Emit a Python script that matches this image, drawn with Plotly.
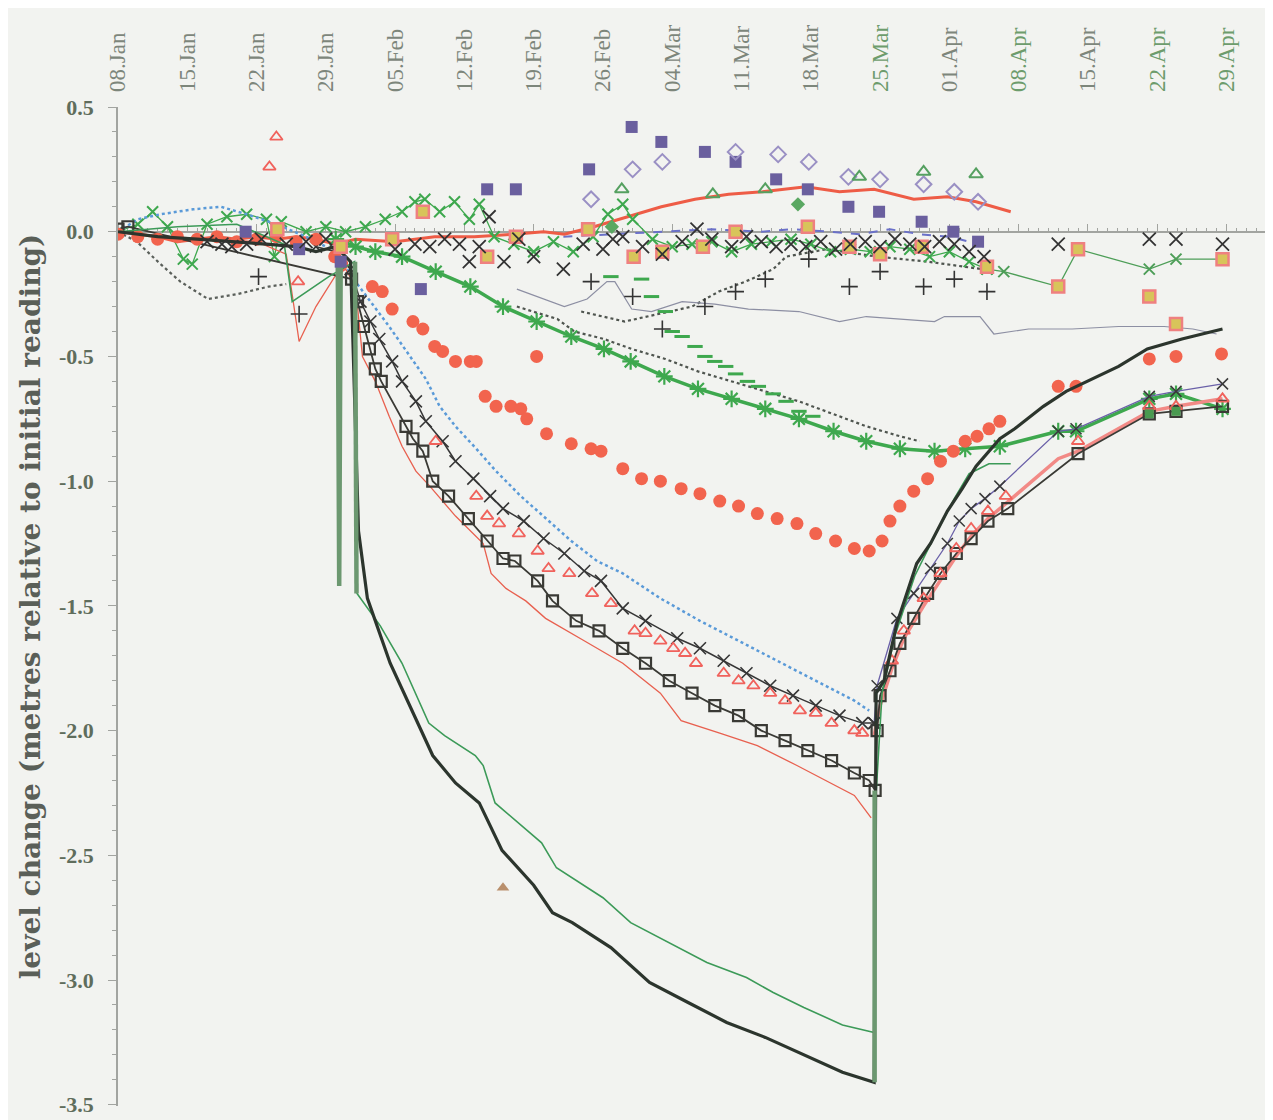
import pandas as pd
import plotly.graph_objects as go

BASE = pd.Timestamp("2004-01-08")

# ---------------- data (day offsets from 08 Jan, level change in metres) ----------------
BK_DAYS = [0, 4, 8, 12, 15, 18, 20, 22, 23.5, 24.3, 25.2, 27.5, 30.3, 31.8, 34.1, 36.5, 38.8, 42.0, 43.9, 45.9,
           49.8, 53.7, 57.6, 61.5, 65.4, 69.3, 73.2, 76.4, 76.6, 77.4, 78.7, 80.7, 82.1, 83.8, 85.3, 86.7, 89.1,
           90.6, 93.5, 95.8, 97.9, 101.1, 104.0, 107.5, 111.6]
BK_LEVEL = [0.0, -0.02, -0.03, -0.04, -0.05, -0.06, -0.08, -0.06, -0.12, -1.20, -1.47, -1.73, -1.97, -2.10, -2.21,
            -2.29, -2.48, -2.62, -2.73, -2.77, -2.87, -3.01, -3.09, -3.17, -3.23, -3.30, -3.37, -3.41, -1.85, -1.80,
            -1.57, -1.33, -1.25, -1.12, -1.03, -0.94, -0.83, -0.79, -0.70, -0.64, -0.60, -0.54, -0.47, -0.43, -0.39]

G_DAYS = [0, 6, 12, 16.8, 17.6, 21.3, 23.9, 24.15, 26.5, 28.7, 31.4, 33.0, 36.1, 36.9, 38.1, 40.5, 42.8, 44.3,
          45.9, 49.0, 51.8, 55.6, 59.5, 63.5, 66.2, 69.3, 73.2, 76.4, 76.6, 77.2, 78.5, 80.5, 82.5, 84.5, 86.0,
          88.0, 90.2]
G_LEVEL = [0.0, 0.02, 0.03, -0.05, -0.28, -0.18, -0.12, -1.45, -1.58, -1.73, -1.97, -2.02, -2.10, -2.14, -2.29,
           -2.37, -2.45, -2.55, -2.59, -2.67, -2.77, -2.85, -2.93, -2.99, -3.05, -3.11, -3.18, -3.21, -2.25, -1.85,
           -1.62, -1.38, -1.22, -1.07, -0.97, -0.93, -0.93]

SPIKE_DAYS = [22.2, 22.35, 22.5, None, 23.95, 24.1, None, 76.45, 76.45]
SPIKE_LEVEL = [-0.10, -1.42, -0.12, None, -0.12, -1.45, None, -3.41, -2.24]

RT_DAYS = [0, 5, 10, 14, 17.0, 18.3, 20.0, 21.9, 23.0, 24.0, 24.7, 26.0, 27.4, 28.7, 30.1, 31.5, 34.1, 36.9, 37.7,
           39.2, 41.2, 43.2, 47.1, 51.0, 54.8, 56.9, 60.8, 64.6, 68.6, 72.5, 74.4, 76.1]
RT_LEVEL = [0.0, -0.02, -0.03, -0.04, -0.09, -0.44, -0.30, -0.18, -0.15, -0.22, -0.50, -0.60, -0.74, -0.86, -0.96,
            -1.02, -1.14, -1.25, -1.37, -1.43, -1.48, -1.55, -1.64, -1.73, -1.85, -1.96, -2.01, -2.06, -2.14, -2.22,
            -2.26, -2.35]

TRI_DAYS = [15.3, 16.0, 18.2, 32.1, 36.2, 37.3, 38.5, 40.5, 42.4, 43.5, 45.6, 47.9, 49.8, 52.2, 53.3, 54.8, 56.1,
            57.3, 58.4, 61.2, 62.7, 64.2, 65.9, 67.4, 68.9, 70.5, 72.1, 74.4, 75.2, 78.2, 79.4, 81.4, 83.1, 84.7,
            86.2, 87.9, 89.7, 97.0, 104.2, 106.9, 111.6]
TRI_LEVEL = [0.26, 0.38, -0.20, -0.84, -1.06, -1.14, -1.17, -1.21, -1.28, -1.35, -1.37, -1.45, -1.49, -1.60, -1.61,
             -1.64, -1.67, -1.69, -1.73, -1.77, -1.80, -1.82, -1.85, -1.88, -1.92, -1.93, -1.97, -2.00, -2.01, -1.72,
             -1.60, -1.47, -1.37, -1.27, -1.19, -1.12, -1.06, -0.84, -0.70, -0.70, -0.67]

PINK_DAYS = [76.4, 77.0, 78.2, 79.4, 81.4, 83.1, 84.7, 86.2, 87.9, 89.7, 95.0, 97.0, 104.2, 106.9, 111.6]
PINK_LEVEL = [-2.02, -1.90, -1.75, -1.63, -1.50, -1.40, -1.30, -1.22, -1.15, -1.09, -0.91, -0.88, -0.72, -0.70, -0.67]

XB_DAYS = [20.0, 22.0, 23.5, 24.5, 25.5, 26.4, 27.7, 28.7, 30.1, 31.1, 32.8, 34.1, 35.9, 37.6, 38.9, 41.0, 43.0,
           45.1, 47.1, 48.8, 51.0, 53.3, 56.5, 58.8, 61.2, 63.5, 65.9, 68.2, 70.5, 72.9, 75.2, 76.4]
XB_LEVEL = [-0.06, -0.08, -0.15, -0.28, -0.36, -0.43, -0.52, -0.60, -0.68, -0.76, -0.84, -0.92, -0.99, -1.06, -1.11,
            -1.16, -1.23, -1.29, -1.36, -1.40, -1.51, -1.56, -1.63, -1.67, -1.72, -1.77, -1.82, -1.86, -1.90, -1.94,
            -1.97, -1.97]

XREC_DAYS = [76.4, 76.7, 78.7, 80.4, 82.1, 83.8, 85.0, 86.2, 87.6, 89.1, 95.0, 96.8, 104.2, 106.9, 111.6]
XREC_LEVEL = [-1.97, -1.82, -1.55, -1.45, -1.35, -1.25, -1.16, -1.11, -1.07, -1.02, -0.80, -0.79, -0.66, -0.64, -0.61]

BOX_DAYS = [0, 1, 23.6, 24.2, 24.8, 25.4, 26.0, 26.6, 29.1, 29.8, 30.8, 31.8, 33.4, 35.4, 37.3, 38.9, 40.1, 42.4,
            43.9, 46.3, 48.6, 51.0, 53.3, 55.7, 58.0, 60.3, 62.7, 65.0, 67.4, 69.7, 72.1, 74.4, 75.9, 76.5, 76.7,
            77.0, 78.0, 79.0, 80.4, 81.8, 83.1, 84.7, 86.2, 87.9, 89.9, 97.0, 104.2, 106.9, 111.6]
BOX_LEVEL = [0.01, 0.02, -0.19, -0.28, -0.38, -0.47, -0.55, -0.60, -0.78, -0.83, -0.88, -1.00, -1.06, -1.15, -1.24,
             -1.31, -1.32, -1.40, -1.48, -1.56, -1.60, -1.67, -1.73, -1.80, -1.85, -1.90, -1.94, -2.00, -2.04, -2.08,
             -2.12, -2.17, -2.20, -2.24, -2.00, -1.86, -1.76, -1.65, -1.55, -1.45, -1.37, -1.29, -1.23, -1.16, -1.11,
             -0.89, -0.73, -0.72, -0.70]

BLUE_DAYS = [0, 2, 4.3, 7.6, 10.4, 13, 16, 19, 22, 24, 27.4, 29.5, 31.1, 32.5, 34.1, 36.2, 38.2, 40.7, 43.0, 45.8,
             48.4, 51.0, 54.8, 58.8, 62.7, 66.6, 70.5, 74.4, 75.9]
BLUE_LEVEL = [0, 0.05, 0.07, 0.09, 0.10, 0.07, 0.03, -0.02, -0.08, -0.20, -0.38, -0.50, -0.59, -0.70, -0.78, -0.87,
              -0.96, -1.06, -1.14, -1.24, -1.32, -1.37, -1.47, -1.56, -1.64, -1.72, -1.80, -1.88, -1.92]

RD_DAYS = [0, 2, 4, 6, 8, 10, 12, 14, 16, 18, 20, 21.9, 22.6, 25.7, 26.7, 27.7, 29.8, 30.8, 32.0, 32.8, 34.1, 35.6,
           36.2, 37.1, 38.2, 39.7, 40.7, 41.3, 42.3, 43.3, 45.8, 47.8, 48.8, 51.0, 52.9, 54.8, 56.9, 58.8, 60.8,
           62.7, 64.6, 66.6, 68.6, 70.5, 72.5, 74.4, 75.9, 77.2, 78.0, 79.0, 80.4, 81.8, 83.1, 84.4, 85.6, 86.8,
           88.0, 89.1, 95.0, 96.8, 104.2, 106.9, 111.5]
RD_LEVEL = [-0.01, -0.02, -0.03, -0.02, -0.03, -0.02, -0.04, -0.03, -0.02, -0.04, -0.03, -0.10, -0.13, -0.22, -0.24,
            -0.31, -0.36, -0.39, -0.46, -0.48, -0.52, -0.52, -0.52, -0.66, -0.70, -0.70, -0.71, -0.75, -0.50, -0.81,
            -0.85, -0.87, -0.88, -0.95, -0.99, -1.00, -1.03, -1.05, -1.08, -1.10, -1.13, -1.15, -1.17, -1.21, -1.24,
            -1.27, -1.28, -1.24, -1.16, -1.10, -1.04, -0.99, -0.92, -0.88, -0.84, -0.82, -0.79, -0.76, -0.62, -0.62,
            -0.51, -0.50, -0.49]

GX_DAYS = [22.0, 24.0, 26.0, 28.7, 32.1, 35.6, 38.9, 42.3, 45.8, 49.1, 51.8, 55.2, 58.6, 62.0, 65.4, 68.8, 72.3,
           75.6, 79.0, 82.5, 85.6, 89.1, 95.0, 96.8, 104.2, 106.9, 111.6]
GX_LEVEL = [-0.03, -0.06, -0.08, -0.10, -0.16, -0.22, -0.30, -0.36, -0.42, -0.47, -0.52, -0.58, -0.63, -0.67, -0.71,
            -0.75, -0.80, -0.84, -0.87, -0.88, -0.87, -0.86, -0.80, -0.80, -0.67, -0.65, -0.71]

GX0_DAYS = [0, 2, 3.5, 5, 6.6, 7.5, 9, 11, 13, 15, 15.8, 16.5, 19, 21, 23, 25, 27, 28.7, 30, 31, 32.5, 34, 35.5,
            36.5, 38, 40, 42, 44, 46, 48, 49.5, 51, 52, 54, 56, 58, 60, 62, 64, 66, 68, 70, 72, 74, 76, 78, 80, 82,
            84, 86, 87.8]
GX0_LEVEL = [0.0, 0.03, 0.08, 0.02, -0.11, -0.13, 0.03, 0.06, 0.07, 0.05, -0.10, 0.04, 0.0, 0.02, 0.0, 0.02, 0.05,
             0.08, 0.12, 0.13, 0.08, 0.12, 0.05, 0.11, -0.02, -0.05, -0.08, -0.04, -0.08, -0.02, 0.07, 0.11, 0.05,
             -0.03, -0.06, -0.05, -0.04, -0.08, -0.05, -0.04, -0.03, -0.05, -0.08, -0.07, -0.08, -0.06, -0.07,
             -0.10, -0.08, -0.12, -0.15]

GL_DAYS = [87.8, 89.5, 95.0, 97.0, 104.2, 106.9, 111.6]
GL_LEVEL = [-0.15, -0.16, -0.22, -0.07, -0.15, -0.11, -0.11]

XB0_DAYS = [9, 10.5, 11.5, 13, 14.5, 17, 19, 21, 28, 30, 31.5, 33, 34.5, 35.5, 36.5, 37.5, 39, 40.5, 42, 45, 47, 49,
            50, 51, 53, 55, 57, 58.5, 60, 62, 63.5, 65, 66.5, 68, 69.5, 71, 72.5, 74, 75.5, 77, 78.5, 80, 81.5, 83,
            84.5, 86, 87.5, 95, 104.2, 106.9, 111.6]
XB0_LEVEL = [-0.04, -0.05, -0.06, -0.05, -0.03, -0.05, -0.04, -0.03, -0.07, -0.05, -0.06, -0.03, -0.05, -0.12, -0.06,
             0.06, -0.12, -0.03, -0.10, -0.15, -0.05, -0.07, -0.03, -0.02, -0.06, -0.09, -0.04, 0.01, -0.03, -0.06,
             -0.02, -0.04, -0.06, -0.05, -0.06, -0.04, -0.07, -0.05, -0.04, -0.06, -0.03, -0.05, -0.06, -0.04, -0.05,
             -0.08, -0.10, -0.05, -0.03, -0.03, -0.05]

SQ_DAYS = [16.1, 22.5, 27.7, 30.8, 37.3, 40.2, 47.5, 52.1, 55.0, 59.1, 62.4, 69.7, 73.9, 77.0, 81.2, 87.8, 95.0,
           97.0, 104.2, 106.9, 111.6]
SQ_LEVEL = [0.01, -0.06, -0.03, 0.08, -0.10, -0.02, 0.01, -0.10, -0.08, -0.06, 0.0, 0.02, -0.06, -0.09, -0.06, -0.14,
            -0.22, -0.07, -0.26, -0.37, -0.11]

PSQ_DAYS = [12.9, 18.3, 22.5, 30.6, 37.3, 40.2, 47.6, 51.9, 54.9, 59.3, 62.4, 66.5, 69.7, 73.8, 76.9, 81.2, 84.4, 86.9]
PSQ_LEVEL = [0.0, -0.07, -0.12, -0.23, 0.17, 0.17, 0.25, 0.42, 0.36, 0.32, 0.28, 0.21, 0.17, 0.10, 0.08, 0.04, 0.0,
             -0.04]

DIA_DAYS = [47.8, 52.0, 55.0, 62.4, 66.7, 69.8, 73.8, 77.0, 81.4, 84.5, 86.9]
DIA_LEVEL = [0.13, 0.25, 0.28, 0.32, 0.31, 0.28, 0.22, 0.21, 0.19, 0.16, 0.12]

GTRI_DAYS = [50.9, 60.1, 65.4, 74.9, 81.4, 86.7]
GTRI_LEVEL = [0.17, 0.15, 0.17, 0.22, 0.24, 0.23]

GDIA_DAYS = [49.9, 68.7]
GDIA_LEVEL = [0.02, 0.11]

RTOP_DAYS = [0, 2, 4, 6, 8, 10, 12, 14, 16, 18, 20, 22, 24, 28, 32, 36, 40, 43.0, 45.1, 48.1, 51.5, 54.9, 58.3,
             61.7, 65.1, 69.5, 72.9, 76.4, 80.4, 83.8, 86.7, 90.2]
RTOP_LEVEL = [0.0, -0.01, -0.02, -0.04, -0.03, -0.02, -0.03, -0.02, -0.03, -0.02, -0.03, -0.05, -0.03, -0.04, -0.02,
              -0.02, -0.01, 0.0, -0.01, 0.02, 0.06, 0.10, 0.13, 0.15, 0.16, 0.18, 0.16, 0.17, 0.13, 0.14, 0.12, 0.08]

GRAY_DAYS = [40.3, 45.1, 47.4, 49.4, 50.2, 51.9, 53.9, 57.0, 60.3, 63.7, 68.8, 72.9, 75.6, 79.0, 82.5, 83.5, 87.1,
             88.5, 92.0, 96.4, 101.1, 105.7, 108.6, 111.0]
GRAY_LEVEL = [-0.23, -0.30, -0.27, -0.20, -0.20, -0.31, -0.32, -0.28, -0.29, -0.31, -0.32, -0.36, -0.34, -0.35,
              -0.36, -0.34, -0.34, -0.41, -0.39, -0.39, -0.38, -0.38, -0.39, -0.41]

PLUS_DAYS = [14.2, 18.3, 47.8, 52.0, 55.0, 59.3, 62.4, 65.4, 69.8, 73.9, 77.0, 81.4, 84.5, 87.8]
PLUS_LEVEL = [-0.18, -0.33, -0.20, -0.26, -0.39, -0.30, -0.24, -0.19, -0.11, -0.22, -0.16, -0.22, -0.19, -0.24]

DD1_DAYS = [0, 1.9, 4.3, 6.3, 9.1, 12.1, 15.2, 17.0]
DD1_LEVEL = [0.0, -0.04, -0.13, -0.20, -0.27, -0.25, -0.22, -0.21]

DD2_DAYS = [40.3, 44.4, 46.1, 49.1, 51.9, 55.3, 58.6, 62.1, 65.4, 68.8, 72.3, 75.6, 79.0, 81.0]
DD2_LEVEL = [-0.30, -0.35, -0.40, -0.43, -0.47, -0.51, -0.56, -0.60, -0.64, -0.68, -0.73, -0.78, -0.82, -0.84]

DD3_DAYS = [46.8, 51.2, 58.0, 60.7, 63.4, 66.2, 67.5, 71.6, 76.7, 81.8, 87.3]
DD3_LEVEL = [-0.32, -0.36, -0.30, -0.24, -0.20, -0.15, -0.10, -0.07, -0.10, -0.12, -0.15]

GD_DAYS = [49.8, 52.9, 53.9, 55.3, 56.0, 57.0, 58.3, 59.3, 60.3, 61.4, 62.4, 63.6, 64.7, 66.2, 67.5, 68.8, 70.2]
GD_LEVEL = [-0.18, -0.19, -0.26, -0.32, -0.40, -0.42, -0.46, -0.50, -0.52, -0.54, -0.57, -0.60, -0.62, -0.65, -0.68,
            -0.72, -0.74]

BD0_DAYS = [45, 50, 55, 60, 65, 68, 72, 75, 78, 81, 84, 86, 87.5]
BD0_LEVEL = [-0.02, -0.01, 0.0, 0.01, 0.0, 0.01, 0.0, -0.01, 0.01, -0.01, -0.02, -0.04, -0.06]

GSQ_DAYS = [104.2, 106.9]
GSQ_LEVEL = [-0.73, -0.72]

BROWN_DAYS = [38.9]
BROWN_LEVEL = [-2.63]

WEEKS = list(range(0, 113, 7))
Y_TICKS = [0.5, 0.0, -0.5, -1.0, -1.5, -2.0, -2.5, -3.0, -3.5]
GREEN_LABEL_WEEKS = [77, 91, 105, 112]


def to_dates(days):
    return [None if d is None else BASE + pd.Timedelta(days=d) for d in days]


pairs = [(BK_DAYS, BK_LEVEL), (G_DAYS, G_LEVEL), (SPIKE_DAYS, SPIKE_LEVEL), (RT_DAYS, RT_LEVEL),
         (TRI_DAYS, TRI_LEVEL), (PINK_DAYS, PINK_LEVEL), (XB_DAYS, XB_LEVEL), (XREC_DAYS, XREC_LEVEL),
         (BOX_DAYS, BOX_LEVEL), (BLUE_DAYS, BLUE_LEVEL), (RD_DAYS, RD_LEVEL), (GX_DAYS, GX_LEVEL),
         (GX0_DAYS, GX0_LEVEL), (GL_DAYS, GL_LEVEL), (XB0_DAYS, XB0_LEVEL), (SQ_DAYS, SQ_LEVEL),
         (PSQ_DAYS, PSQ_LEVEL), (DIA_DAYS, DIA_LEVEL), (GTRI_DAYS, GTRI_LEVEL), (RTOP_DAYS, RTOP_LEVEL),
         (GRAY_DAYS, GRAY_LEVEL), (PLUS_DAYS, PLUS_LEVEL), (DD1_DAYS, DD1_LEVEL), (DD2_DAYS, DD2_LEVEL),
         (DD3_DAYS, DD3_LEVEL), (GD_DAYS, GD_LEVEL), (BD0_DAYS, BD0_LEVEL)]
for i, (a, b) in enumerate(pairs):
    assert len(a) == len(b), (i, len(a), len(b))

fig = go.Figure()


def line(days, lev, color, width, dash="solid", shape="linear"):
    fig.add_trace(go.Scatter(x=to_dates(days), y=lev, mode="lines",
                             line=dict(color=color, width=width, dash=dash, shape=shape),
                             connectgaps=False, showlegend=False, hoverinfo="skip"))


def marks(days, lev, symbol, color, size, lw=1.5, mode="markers", line_color=None, line_width=1.0, fill=None,
          dash="solid"):
    mk = dict(symbol=symbol, size=size, color=fill if fill else color, line=dict(color=color, width=lw))
    fig.add_trace(go.Scatter(x=to_dates(days), y=lev, mode=mode, marker=mk,
                             line=dict(color=line_color or color, width=line_width, dash=dash),
                             showlegend=False, hoverinfo="skip"))


# lines (background layer)
line(BD0_DAYS, BD0_LEVEL, "#6a70c8", 2, dash="dash")
line(DD1_DAYS, DD1_LEVEL, "#5a5f5a", 2.2, dash="dot")
line(DD2_DAYS, DD2_LEVEL, "#4f554f", 2.2, dash="dot")
line(DD3_DAYS, DD3_LEVEL, "#4f554f", 2.2, dash="dot")
line(GRAY_DAYS, GRAY_LEVEL, "#8d8fa3", 1.2)
line(RTOP_DAYS, RTOP_LEVEL, "#ee5c46", 3)
marks(GX0_DAYS, GX0_LEVEL, "x-thin-open", "#3ea84e", 11, lw=2, mode="lines+markers", line_width=1.3)
marks(GL_DAYS, GL_LEVEL, "x-thin-open", "#4e9e58", 11, lw=2, mode="lines+markers", line_width=1.3)
marks(GX_DAYS, GX_LEVEL, "asterisk-open", "#3ea84e", 14, lw=2.2, mode="lines+markers", line_width=3.5)
marks(GD_DAYS, GD_LEVEL, "line-ew-open", "#3ea84e", 11, lw=3)
line(BLUE_DAYS, BLUE_LEVEL, "#5a9ad8", 2.5, dash="dot")
line(RT_DAYS, RT_LEVEL, "#e8604f", 1.3)
line(PINK_DAYS, PINK_LEVEL, "#f28a86", 3.5)
marks(XREC_DAYS, XREC_LEVEL, "x-thin-open", "#3a3a3a", 11, lw=1.5, mode="lines+markers", line_color="#6a60a8",
      line_width=1.3)
marks(BOX_DAYS, BOX_LEVEL, "square-open", "#3a3a35", 11, lw=2.2, mode="lines+markers", line_width=1.8)
marks(XB_DAYS, XB_LEVEL, "x-thin-open", "#363636", 12, lw=1.6, mode="lines+markers", line_width=1.5)
marks(TRI_DAYS, TRI_LEVEL, "triangle-up-open", "#f0625c", 11, lw=1.8)
marks(RD_DAYS, RD_LEVEL, "circle", "#f2644e", 13, lw=0)
line(G_DAYS, G_LEVEL, "#3c9a58", 1.6)
line(BK_DAYS, BK_LEVEL, "#2c352d", 3.2)
line(SPIKE_DAYS, SPIKE_LEVEL, "#6c9870", 4.5)

# scattered markers
marks(PSQ_DAYS, PSQ_LEVEL, "square", "#6a5f9e", 12, lw=0)
marks(DIA_DAYS, DIA_LEVEL, "diamond-open", "#9a90c4", 12, lw=2)
marks(GTRI_DAYS, GTRI_LEVEL, "triangle-up-open", "#55a060", 12, lw=2)
marks(GDIA_DAYS, GDIA_LEVEL, "diamond", "#5aa862", 11, lw=0)
marks(SQ_DAYS, SQ_LEVEL, "square", "#ef8080", 12, lw=2.5, fill="#d8c45a")
marks(GSQ_DAYS, GSQ_LEVEL, "square", "#4a9a50", 9, lw=0)
marks(PLUS_DAYS, PLUS_LEVEL, "cross-thin-open", "#333333", 12, lw=1.6)
marks(XB0_DAYS, XB0_LEVEL, "x-thin-open", "#333333", 13, lw=1.8)
marks(BROWN_DAYS, BROWN_LEVEL, "triangle-up", "#b98f6c", 11, lw=0)

# invisible trace to bind the zero-level axis
fig.add_trace(go.Scatter(x=[BASE], y=[0], xaxis="x2", mode="markers", marker=dict(opacity=0),
                         showlegend=False, hoverinfo="skip"))

week_dates = [BASE + pd.Timedelta(days=w) for w in WEEKS]
tick_text = []
for w, d in zip(WEEKS, week_dates):
    col = "#6d9c6c" if w in GREEN_LABEL_WEEKS else "#7d867b"
    tick_text.append(f'<span style="color:{col}">{d.strftime("%d.%b")}</span>')

x_end = BASE + pd.Timedelta(days=116.7)

# the page body adds an 8 px offset, so the figure is 8 px smaller than the window
fig.update_layout(
    width=1265, height=1112,
    margin=dict(l=110, r=0, t=99, b=14, pad=0, autoexpand=False),
    paper_bgcolor="#f2f3f0", plot_bgcolor="#f2f3f0",
    showlegend=False,
    xaxis=dict(type="date", range=[BASE, x_end], side="top", tickvals=week_dates, ticktext=tick_text,
               tickangle=-90, tickfont=dict(family="Liberation Serif", size=23, color="#7d867b"),
               ticks="", ticklabelstandoff=14, showline=False, showgrid=False, zeroline=False,
               automargin=False, ticklabeloverflow="allow"),
    xaxis2=dict(type="date", overlaying="x", matches="x", anchor="free", position=0.875, side="top",
                showline=True, linecolor="#a2a4a0", linewidth=1.5, ticks="outside", ticklen=7,
                tickcolor="#a2a4a0", tickvals=week_dates, showticklabels=False, showgrid=False,
                zeroline=False, layer="below traces", automargin=False,
                minor=dict(dtick=86400000, tick0=BASE, ticks="outside", ticklen=3, tickcolor="#a2a4a0")),
    yaxis=dict(range=[-3.505, 0.5], tickvals=Y_TICKS, ticktext=[f"{v:.1f}" for v in Y_TICKS],
               tickfont=dict(family="Liberation Serif", size=22, color="#5f6d5c", weight="bold"),
               showline=True, linecolor="#a2a4a0", linewidth=1.5, ticks="outside", ticklen=8,
               tickcolor="#a2a4a0", showgrid=False, zeroline=False, automargin=False, ticklabelstandoff=10,
               ticklabeloverflow="allow",
               minor=dict(dtick=0.1, ticks="outside", ticklen=4, tickcolor="#a2a4a0"),
               title=dict(text="level change (metres relative to initial reading)",
                          font=dict(family="DejaVu Serif", size=28, color="#5a5f58", weight="bold"),
                          standoff=10)),
)

fig.write_html("out.html")
